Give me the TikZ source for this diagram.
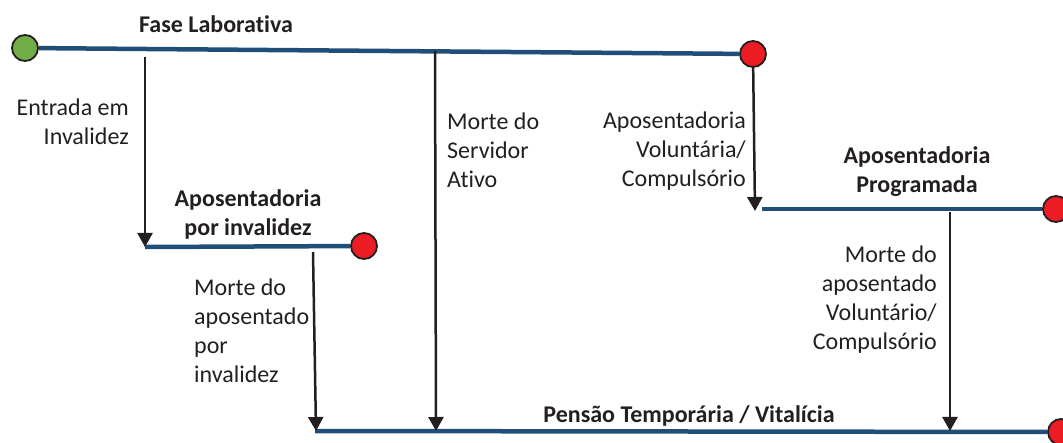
\documentclass[tikz,border=0pt]{standalone}
\usepackage{fontspec}
\setmainfont{Carlito}[Ligatures=NoCommon]
\usetikzlibrary{arrows.meta}
\definecolor{lineblue}{HTML}{1F4E79}
\definecolor{ink}{HTML}{231F20}
\definecolor{dotred}{HTML}{ED1C24}
\definecolor{dotgreen}{HTML}{70AD47}
\tikzset{
  dot/.style={circle, draw=ink, line width=1.8pt, minimum size=26pt, inner sep=0pt},
  reddot/.style={dot, fill=dotred},
  greendot/.style={dot, fill=dotgreen},
  phase/.style={draw=lineblue, line width=4.5pt},
  event/.style={draw=ink, line width=2.5pt, -{Triangle[width=15pt,length=14pt]}},
  lbl/.style={inner sep=0pt, text=ink, font=\fontsize{24}{29}\selectfont},
  blbl/.style={lbl, font=\fontsize{24}{29}\selectfont\bfseries, align=center},
}
\begin{document}
\begin{tikzpicture}[x=1pt,y=-1pt]
\useasboundingbox (0,0) rectangle (1063,443);
% state dots
\node[greendot] (g) at (25,48) {};
\node[reddot] (r1) at (753,54) {};
\node[reddot] (r2) at (364,246) {};
\node[reddot] (r3) at (1056,209) {};
\node[reddot] (r4) at (1061,432) {};
% line start points
\coordinate (l2s) at (145,247);
\coordinate (l3s) at (762,209);
\coordinate (l4s) at (315,431);
% phase lines
\draw[phase] (g) -- (r1);
\draw[phase] (l2s) -- (r2);
\draw[phase] (l3s) -- (r3);
\draw[phase] (l4s) -- (r4);
% event arrow endpoints
\coordinate (e1a) at (145,57);
\coordinate (e2a) at (313,252);
\coordinate (e2b) at (316,431);
\coordinate (e3a) at (435,51);
\coordinate (e3b) at (436,431);
\coordinate (e4b) at (755,211);
\coordinate (e5a) at (950,212);
\coordinate (e5b) at (950,431);
\draw[event] (e1a) -- (l2s);
\draw[event] (e2a) -- (e2b);
\draw[event] (e3a) -- (e3b);
\draw[event] (r1) -- (e4b);
\draw[event] (e5a) -- (e5b);
% labels (anchor base = baseline of the last line)
\node[blbl, anchor=base] (t1) at (216,33) {Fase Laborativa};
\node[blbl, anchor=base] (t2) at (248,236) {Aposentadoria\\por invalidez};
\node[blbl, anchor=base] (t3) at (917,193) {Aposentadoria\\Programada};
\node[blbl, anchor=base] (t4) at (689,423) {Pensão Temporária / Vitalícia};
\node[lbl, align=right, anchor=base east] (t5) at (129,145) {Entrada em\\Invalidez};
\node[lbl, align=left, anchor=base west] (t6) at (194,383) {Morte do\\aposentado\\por\\invalidez};
\node[lbl, align=left, anchor=base west] (t7) at (447,188) {Morte do\\Servidor\\Ativo};
\node[lbl, align=right, anchor=base east] (t8) at (746,187) {Aposentadoria\\Voluntária/\\Compulsório};
\node[lbl, align=right, anchor=base east] (t9) at (937,350) {Morte do\\aposentado\\Voluntário/\\Compulsório};
\end{tikzpicture}
\end{document}
